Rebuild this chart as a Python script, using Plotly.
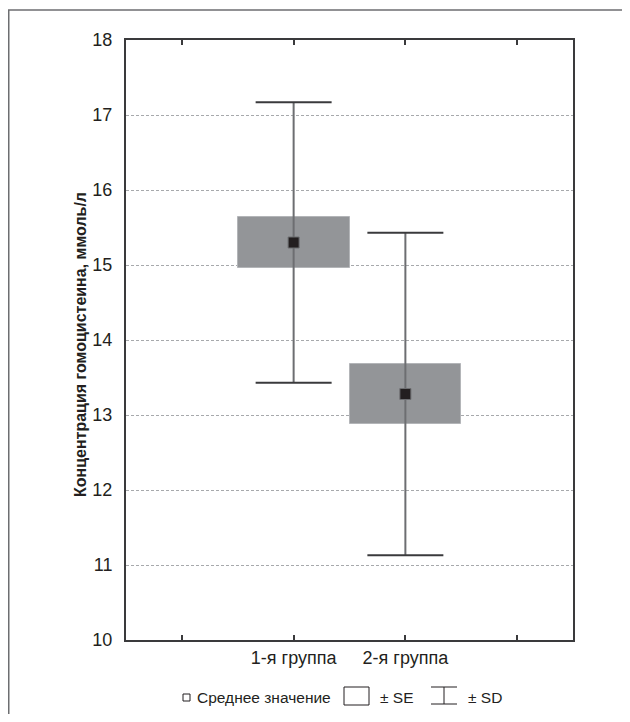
import plotly.graph_objects as go

# ---- data ----
groups = ["1-я группа", "2-я группа"]
group_pos = [1, 2]
means = [15.30, 13.28]
se = [0.34, 0.40]
sd = [1.87, 2.15]
tick_vals = [0, 1, 2, 3]
tick_text = ["", "1-я группа", "2-я группа", ""]
y_ticks = [10, 11, 12, 13, 14, 15, 16, 17, 18]

FONT = "Liberation Sans, Arial, sans-serif"
DARK = "#231f20"

fig = go.Figure()

# whiskers (vertical lines)
wx, wy = [], []
for p, m, s in zip(group_pos, means, sd):
    wx += [p, p, None]
    wy += [m - s, m + s, None]
fig.add_trace(go.Scatter(x=wx, y=wy, mode="lines", line=dict(color="#6d6e71", width=2),
                         hoverinfo="skip", showlegend=False))

# caps
cap_half = 0.34
cx, cy = [], []
for p, m, s in zip(group_pos, means, sd):
    for v in (m - s, m + s):
        cx += [p - cap_half, p + cap_half, None]
        cy += [v, v, None]
fig.add_trace(go.Scatter(x=cx, y=cy, mode="lines", line=dict(color="#3a3a3c", width=2),
                         hoverinfo="skip", showlegend=False))

# SE boxes
fig.add_trace(go.Bar(x=group_pos, y=[2 * s for s in se], base=[m - s for m, s in zip(means, se)],
                     width=1.0, marker=dict(color="#939598", line=dict(color="#b3b5b8", width=1)),
                     showlegend=False, hoverinfo="skip"))

# means
fig.add_trace(go.Scatter(x=group_pos, y=means, mode="markers",
                         marker=dict(symbol="square", size=11, color=DARK,
                                     line=dict(color="#6d6e71", width=1)),
                         showlegend=False, hoverinfo="skip"))

OFF = 8  # page body margin
FIG_W, FIG_H = 630 - 2 * OFF, 722 - 2 * OFF
# plot area in screen pixels
PL, PR, PT, PB = 126, 573, 40, 640
L, T = PL - OFF, PT - OFF
R, B = FIG_W - (PR - OFF), FIG_H - (PB - OFF)
W, H = PR - PL, PB - PT


def px(x):
    return (x - PL) / W


def py(y):
    return (PB - y) / H


shapes = [
    # outer frame (extends beyond the visible area on right/bottom)
    dict(type="rect", xref="paper", yref="paper", x0=px(OFF + 0.75), x1=px(760), y0=py(820), y1=py(OFF + 2),
         line=dict(color="#6d6e71", width=1.5), layer="below"),
    # legend: mean square
    dict(type="rect", xref="paper", yref="paper", x0=px(183), x1=px(190), y0=py(701), y1=py(694),
         line=dict(color=DARK, width=1)),
    # legend: SE box
    dict(type="rect", xref="paper", yref="paper", x0=px(344), x1=px(369), y0=py(705), y1=py(687),
         line=dict(color=DARK, width=1)),
    # legend: SD whisker
    dict(type="line", xref="paper", yref="paper", x0=px(444), x1=px(444), y0=py(704), y1=py(687),
         line=dict(color=DARK, width=1)),
    dict(type="line", xref="paper", yref="paper", x0=px(431), x1=px(457), y0=py(687), y1=py(687),
         line=dict(color=DARK, width=1)),
    dict(type="line", xref="paper", yref="paper", x0=px(431), x1=px(457), y0=py(704), y1=py(704),
         line=dict(color=DARK, width=1)),
]

LEG = dict(family=FONT, size=15.5, color=DARK)
annotations = [
    dict(text="Среднее значение", xref="paper", yref="paper", x=px(195), y=py(697),
         xanchor="left", yanchor="middle", showarrow=False, font=LEG),
    dict(text="± SE", xref="paper", yref="paper", x=px(378), y=py(697),
         xanchor="left", yanchor="middle", showarrow=False, font=LEG),
    dict(text="± SD", xref="paper", yref="paper", x=px(466), y=py(697),
         xanchor="left", yanchor="middle", showarrow=False, font=LEG),
    dict(text="<b>Концентрация гомоцистеина, ммоль/л</b>", xref="paper", yref="paper",
         x=px(80), y=py(345), xanchor="center", yanchor="middle", textangle=-90,
         showarrow=False, font=dict(family=FONT, size=16, color=DARK)),
]

fig.update_layout(
    width=FIG_W, height=FIG_H,
    margin=dict(l=L, r=R, t=T, b=B),
    paper_bgcolor="white", plot_bgcolor="white",
    font=dict(family=FONT, color=DARK),
    shapes=shapes, annotations=annotations,
    showlegend=False, bargap=0,
)
fig.update_xaxes(
    range=[-0.5, 3.5], tickmode="array", tickvals=tick_vals, ticktext=tick_text,
    ticks="inside", ticklen=5, tickwidth=1.5, tickcolor="#3a3a3c",
    showline=True, linecolor="#3a3a3c", linewidth=2, mirror="ticks",
    showgrid=False, zeroline=False, tickfont=dict(family=FONT, size=18, color=DARK),
)
fig.update_yaxes(
    range=[10, 18], tickmode="array", tickvals=y_ticks,
    ticks="", showline=True, linecolor="#3a3a3c", linewidth=2, mirror=True,
    showgrid=True, gridcolor="#a7a9ac", gridwidth=1, griddash="3px,2px", zeroline=False,
    tickfont=dict(family=FONT, size=18, color=DARK), ticklabelstandoff=8,
)

fig.write_html("out.html")
